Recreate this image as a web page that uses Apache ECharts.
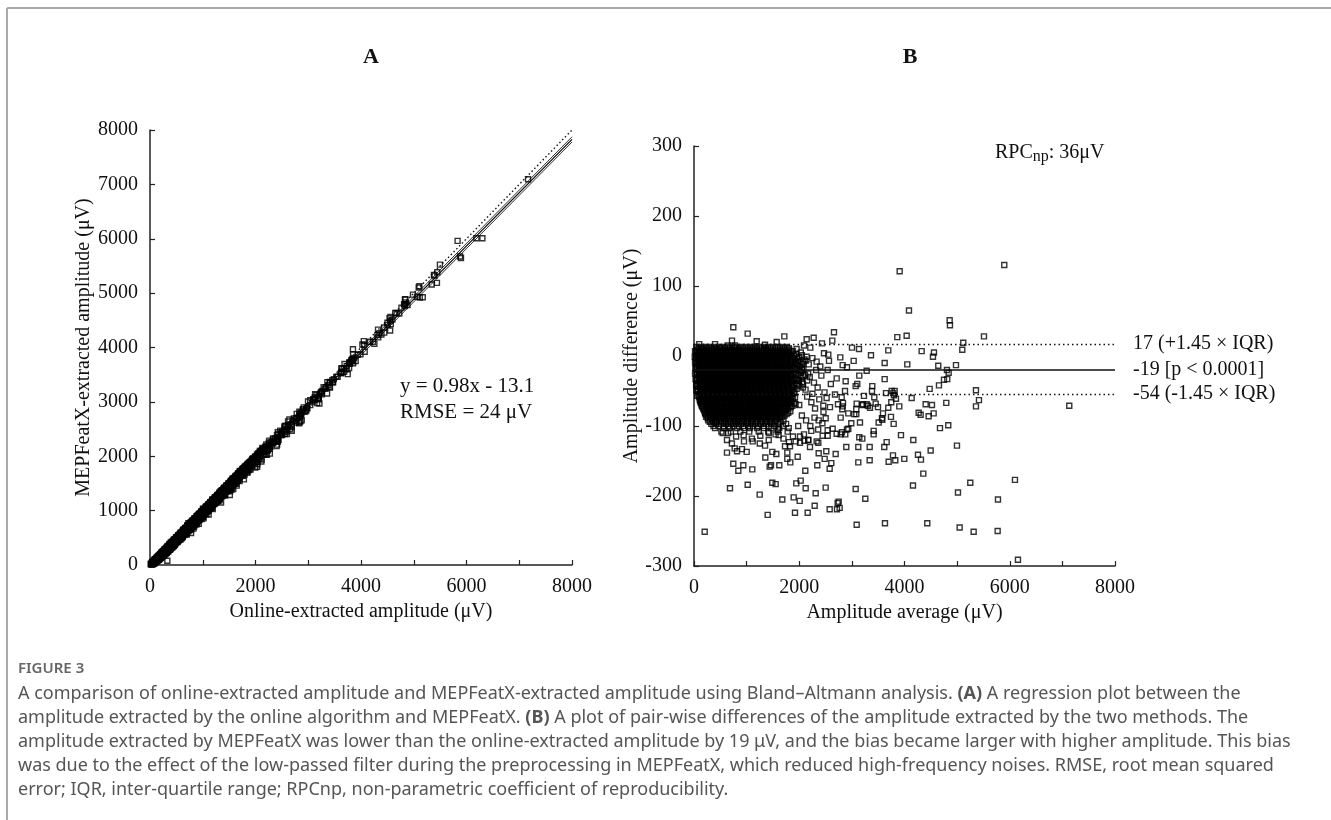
<!DOCTYPE html>
<html><head><meta charset="utf-8">
<script src="https://cdn.jsdelivr.net/npm/echarts@6/dist/echarts.min.js"></script>
<style>html,body{margin:0;padding:0;background:#fff}#c{width:1331px;height:820px}</style>
</head><body><div id="c"></div>
<script>
// ---- Bland–Altmann data (average, difference) ----
// dense cluster, read row by row: [difference, [averages...]]
const blobRows = [
 [13,[45,130,220,290,380,470,540,640,720,810,900,980,1070,1150,1240,1330,1410,1500,1590,1680,1760]],
 [11,[85,175,255,335,425,505,590,680,765,855,940,1025,1110,1195,1285,1370,1455,1545,1635,1720,1800]],
 [9,[60,150,240,320,410,500,585,670,760,850,930,1020,1110,1190,1280,1370,1460,1540,1630,1720,1810]],
 [7,[20,105,195,280,365,455,540,625,715,805,890,975,1065,1150,1235,1325,1415,1500,1585,1675,1770,1880]],
 [5,[40,110,200,280,370,455,550,630,715,800,890,975,1060,1150,1235,1320,1400,1490,1580,1670,1750,1860]],
 [3,[75,160,245,330,415,505,590,675,760,845,935,1020,1105,1195,1280,1365,1450,1535,1625,1710,1820,1940]],
 [1,[55,140,230,310,400,490,570,660,745,830,920,1005,1090,1180,1265,1350,1440,1525,1610,1700,1790,1900,2050]],
 [-1,[15,95,185,270,355,445,530,615,705,790,875,965,1050,1135,1225,1310,1395,1485,1570,1655,1745,1840,1990,2140]],
 [-3,[35,120,205,295,385,470,555,640,730,815,900,990,1075,1160,1250,1335,1420,1510,1595,1685,1770,1850,1960]],
 [-5,[80,165,250,340,425,510,600,685,770,860,945,1030,1120,1205,1290,1380,1465,1550,1640,1725,1820,1920]],
 [-7,[50,135,225,305,395,480,565,655,740,825,910,1000,1085,1170,1255,1345,1430,1515,1605,1690,1780,1880,1990,2120]],
 [-9,[20,90,180,265,350,440,525,610,695,785,870,955,1045,1130,1215,1300,1390,1475,1560,1650,1735,1830,1940,2070]],
 [-11,[40,115,210,290,375,465,550,635,720,810,895,985,1065,1155,1240,1325,1415,1500,1590,1675,1760,1845,1930,2060]],
 [-13,[85,170,255,345,430,515,605,690,775,865,950,1035,1125,1210,1295,1380,1470,1555,1640,1730,1820,1960]],
 [-15,[55,145,235,320,405,490,580,665,750,835,925,1010,1095,1185,1270,1355,1440,1530,1615,1700,1790,1890,2010]],
 [-17,[25,100,190,275,360,450,535,620,705,795,880,965,1055,1140,1225,1315,1400,1485,1575,1660,1745,1830,1920,2050]],
 [-19,[45,125,215,300,390,475,560,645,735,820,905,995,1080,1165,1250,1340,1425,1510,1600,1685,1770,1855,1950,2080]],
 [-21,[90,175,260,350,435,520,610,695,780,870,955,1040,1130,1215,1300,1385,1475,1560,1645,1735,1825,1990]],
 [-23,[60,150,240,325,410,500,585,670,755,845,930,1015,1100,1190,1275,1360,1450,1535,1620,1710,1795,1900,2030]],
 [-25,[20,105,195,285,370,455,545,630,715,800,890,975,1060,1150,1235,1320,1410,1495,1580,1665,1755,1840,1930,2170]],
 [-27,[50,130,220,310,395,480,570,655,740,825,915,1000,1085,1175,1260,1345,1435,1520,1605,1695,1780,1870,1970,2110]],
 [-29,[95,185,270,355,440,530,615,700,790,875,960,1050,1135,1220,1310,1395,1480,1570,1655,1740,1835,2080]],
 [-31,[65,155,245,330,415,505,590,675,765,850,935,1025,1110,1195,1285,1370,1455,1540,1630,1715,1800,1920,2040]],
 [-33,[30,110,200,285,370,460,545,630,720,805,890,980,1065,1150,1240,1325,1410,1500,1585,1670,1760,1850,1950]],
 [-35,[55,140,230,315,400,490,575,660,745,835,920,1005,1095,1180,1265,1350,1440,1525,1610,1700,1785,1880,1990,2150]],
 [-37,[100,190,275,360,445,535,620,705,795,880,965,1055,1140,1225,1315,1400,1485,1575,1660,1750,1840,2060]],
 [-39,[70,160,250,335,420,510,595,680,770,855,940,1030,1115,1200,1290,1375,1460,1550,1635,1720,1810,1930]],
 [-41,[40,120,205,290,380,465,550,640,725,810,900,985,1070,1160,1245,1330,1420,1505,1590,1680,1770,1860,1960]],
 [-43,[60,145,235,320,405,495,580,665,750,840,925,1010,1100,1185,1270,1355,1445,1530,1615,1705,1790,1890,2000]],
 [-45,[110,200,285,375,460,545,635,720,805,895,980,1065,1155,1240,1325,1415,1500,1585,1675,1765,1870,2070]],
 [-47,[75,175,260,345,430,520,605,690,775,860,950,1035,1120,1210,1295,1380,1465,1555,1640,1725,1830,1950]],
 [-49,[45,125,215,300,385,475,560,645,735,820,905,995,1080,1165,1255,1340,1425,1515,1600,1690,1780,1870]],
 [-51,[65,150,245,330,415,500,590,675,760,845,935,1020,1105,1190,1280,1365,1450,1535,1625,1710,1800,1910]],
 [-53,[120,210,300,390,480,565,650,740,825,915,1000,1085,1175,1260,1345,1435,1520,1605,1695,1790,1900]],
 [-55,[85,170,270,355,440,525,615,700,785,870,960,1045,1130,1215,1305,1390,1475,1560,1650,1740,1850]],
 [-57,[60,130,205,285,370,460,545,635,720,810,895,980,1070,1155,1240,1330,1415,1500,1590,1680,1770,1860]],
 [-59,[95,160,240,330,415,505,590,680,765,850,940,1025,1110,1195,1285,1370,1455,1545,1630,1720,1810,1920]],
 [-61,[130,230,315,400,485,570,655,745,830,915,1005,1090,1175,1265,1350,1435,1520,1610,1695,1785,1880]],
 [-63,[110,190,270,355,440,525,615,700,785,870,960,1045,1130,1220,1305,1390,1475,1565,1650,1740,1830]],
 [-65,[120,170,290,375,460,545,635,720,805,890,980,1065,1150,1240,1325,1410,1495,1585,1670,1760,1850]],
 [-67,[130,205,245,330,415,500,590,675,760,845,935,1020,1105,1190,1280,1365,1450,1535,1625,1710,1800,1910]],
 [-69,[140,265,345,430,515,600,690,775,860,945,1030,1120,1205,1290,1375,1465,1550,1635,1725,1820,1930]],
 [-71,[150,225,300,385,470,555,640,730,815,900,985,1075,1160,1245,1330,1420,1505,1590,1680,1770,1870]],
 [-73,[160,270,360,445,530,615,705,790,875,960,1050,1135,1220,1310,1395,1480,1565,1655,1745,1840]],
 [-75,[175,240,320,400,485,570,660,745,830,915,1005,1090,1175,1265,1350,1435,1520,1610,1700,1790]],
 [-77,[190,280,365,445,530,615,705,790,875,960,1050,1135,1220,1310,1395,1480,1565,1655,1750]],
 [-79,[200,270,340,420,505,590,675,760,850,935,1020,1105,1195,1280,1365,1450,1540,1625,1720,1830]],
 [-81,[210,310,385,465,550,635,720,805,890,980,1065,1150,1240,1325,1410,1500,1590,1680,1790]],
 [-83,[215,290,365,445,530,615,700,790,875,960,1045,1135,1220,1305,1395,1480,1565,1660,1760]],
 [-85,[250,330,410,490,575,660,745,835,920,1005,1095,1180,1265,1350,1440,1530,1620,1720]],
 [-87,[230,300,380,460,545,630,720,805,890,975,1060,1150,1235,1320,1410,1495,1580,1680]],
 [-89,[260,340,420,500,585,670,760,845,930,1015,1105,1190,1280,1365,1450,1540,1640]],
 [-92,[270,350,430,520,600,690,775,860,950,1035,1120,1210,1300,1390,1480,1570,1700]],
 [-94,[300,390,475,565,650,740,825,915,1000,1090,1175,1260,1350,1440,1530,1640]],
 [-97,[330,420,520,610,700,800,890,990,1080,1170,1270,1370,1480,1600,1750]],
 [-100,[370,470,570,650,760,850,940,1030,1120,1220,1320,1420,1530,1690]],
 [-103,[400,560,680,820,950,1060,1200,1330,1470,1620,1800]],
 [-108,[520,700,880,1050,1230,1410,1590,1780]]
];
// individually read points [average, difference]
const scatteredPoints = [
 [3908,121],[5896,130],[4085,65],[4858,51],[4864,44],[3863,27],[4041,29],[5510,28],[5117,19],[3692,8],
 [4326,7],[4560,5],[4541,-1],[5098,9],[3623,-10],[4053,-12],[4642,-14],[4978,-13],[4807,-20],[4839,-24],
 [4813,-33],[4750,-34],[4655,-42],[3623,-33],[4478,-47],[5358,-49],[5415,-63],[5358,-72],[7131,-71],[3756,-50],
 [3648,-53],[3787,-53],[3838,-61],[4136,-60],[3749,-66],[3901,-72],[3692,-74],[4402,-69],[4522,-70],[4794,-67],
 [3591,-82],[4269,-81],[4307,-84],[4459,-86],[4554,-82],[3743,-87],[3578,-91],[3794,-97],[4674,-103],[4832,-99],
 [3933,-113],[4167,-120],[3661,-123],[3616,-130],[4997,-128],[4497,-135],[3781,-142],[4256,-141],[3699,-151],[3825,-149],
 [3996,-147],[4313,-148],[4357,-168],[4161,-185],[5250,-181],[6099,-177],[5016,-195],[5776,-205],[3629,-239],[4433,-239],
 [5048,-245],[5314,-251],[5770,-250],[6156,-291],
 [203,-251],[1400,-227],[1919,-224],[2160,-224],[2578,-219],[2717,-219],[2768,-217],[2730,-210],[2749,-208],[2293,-214],
 [3091,-241],[1678,-205],[1894,-202],[2008,-207],[1248,-198],[2312,-196],[3255,-204],[3072,-190],[684,-189],[1020,-184],
 [1488,-181],[1552,-183],[1944,-182],[2027,-178],[2122,-189],[2502,-188],[747,-154],[842,-164],[937,-156],[1108,-162],
 [1438,-158],[1463,-156],[1621,-156],[2115,-164],[2343,-156],[2578,-161],[2609,-153],[3122,-152],[3338,-149],[627,-138],
 [773,-132],[817,-136],[912,-133],[1001,-137],[1355,-145],[1488,-137],[1564,-140],[1773,-138],[1830,-152],[1773,-147],
 [1970,-144],[2369,-139],[2514,-136],[2483,-147],[2692,-140],[2894,-130],[3122,-130],[3338,-130],[545,-110],[627,-120],
 [944,-113],[1115,-122],[1260,-114],[1425,-110],[1609,-113],[1729,-129],[1824,-129],[2014,-124],[2204,-130],[2362,-124],
 [2540,-106],[2635,-104],[2787,-112],[2875,-112],[2932,-104],[3141,-116],[3198,-118],[3414,-107],[3414,-112],[3509,-95],
 [3572,-89],[3046,-83],[3084,-76],[2989,-96],[3154,-95],[3306,-71],[3452,-68],
 [747,41],[1020,32],[1716,28],[2141,24],[2274,26],[2660,34],[2628,22],[2432,18],[722,22],[1191,21],
 [1571,20],[3002,12],[3135,10],[3363,1],[2552,2],[2565,-7],[2780,-2],[3034,-7],[2825,-13],[2907,-16],
 [3281,-21],[3141,-28],[2882,-36],[2711,-32],[3072,-43],[3103,-40],[3388,-43],[3382,-50],[3230,-57],[3426,-59],
 [2869,-50],[2679,-55],[2806,-59],[2831,-67],[3091,-68],[3198,-70],[3344,-74],[3496,-73],[3084,-83],[2818,-76],
 [2787,-88],[2932,-82],[2584,-73],[2457,-71],[2502,-89],[2369,-92],[3813,-50],[3800,-56],
 [100,17],[400,17],[640,15],[779,15],[1349,16],
 [2736,-69],[2825,-72],[3211,-69],[3281,-69],[2812,-109],[2907,-105],[2711,-111],[2540,-114],[2445,-114],[2229,-107],
 [2331,-122],[2172,-120],[1932,-122],[2096,-121],[1805,-123],[2014,-115],
 [1950,10],[2030,5],[2100,-5],[2180,-12],[2250,-3],[2320,-20],[2400,-15],[2200,-30],[2280,-38],[2350,-45],
 [2420,-28],[2480,-52],[2150,-58],[2230,-66],[2300,-75],[2380,-62],[2460,-80],[2050,-85],[2130,-92],[2210,-100],
 [2290,-88],[2360,-105],[2440,-96],[2520,-60],[2600,-40],[2540,-20],[2070,-40],[2000,-70],[1980,-100],[2090,-112],
 [2170,-120],[1880,-115],[1700,-118],[1550,-112],[1420,-120],[1250,-125],[1100,-118],[950,-122],[800,-115],[650,-110],
 [720,-125],[1350,-128],[1600,-105],[2050,-20],[1990,-35],[2120,-48],[2250,-54],[2330,-8],[2470,4],[2210,12],[2090,15]
];
// limits of agreement (panel B)
const limitValues = [17, -19, -54];
const limitLabels = ['17 (+1.45 × IQR)', '-19 [p < 0.0001]', '-54 (-1.45 × IQR)'];
const limitStyles = ['dotted', 'solid', 'dotted'];
// panel A reference lines [online, MEPFeatX]
const identityLine = [[0, 0], [8000, 8000]];
const regressionLine = [[0, -13.1], [8000, 7826.9]];
const upperBandLine = [[0, 35], [8000, 7875]];
const lowerBandLine = [[0, -61], [8000, 7779]];
// axis ranges [min, max, interval]
const axisATicks = [0, 8000, 1000];
const axisBYTicks = [-300, 300, 100];

// ---- build data ----
const baPoints = [];
blobRows.forEach(([d, xs]) => xs.forEach(m => baPoints.push([m, d])));
scatteredPoints.forEach(p => baPoints.push(p));
// panel A: online = avg - diff/2, MEPFeatX = avg + diff/2
const regPoints = baPoints.map(([m, d]) => [m - d / 2, m + d / 2]);

const SERIF = '"Liberation Serif","Times New Roman",serif';
const SANS = '"Noto Sans", sans-serif';
const INK = '#111';
const markerStyle = { color: 'rgba(0,0,0,0)', borderColor: '#000', borderWidth: 1.4 };

function axisBase(gi, mn, mx, iv, fmt, name, gap) {
  return {
    type: 'value', gridIndex: gi, min: mn, max: mx, interval: iv,
    axisLine: { show: true, onZero: false, lineStyle: { color: '#222', width: 1.5 } },
    axisTick: { show: true, inside: true, length: 5, lineStyle: { color: '#222', width: 1.2 } },
    axisLabel: { formatter: fmt, fontFamily: SERIF, fontSize: 20, color: INK, margin: 12 },
    splitLine: { show: false },
    name: name, nameLocation: 'middle', nameGap: gap,
    nameTextStyle: { fontFamily: SERIF, fontSize: 20, color: INK }
  };
}
const evenThousands = v => (v % 2000 === 0 ? String(v) : '');
const CAP = 18;
const captionRich = {
  n: { fontFamily: SANS, fontSize: CAP, color: '#555', fill: '#555' },
  b: { fontFamily: SANS, fontSize: CAP, fontWeight: 'bold', color: '#555', fill: '#555' }
};

const chart = echarts.init(document.getElementById('c'), null, { renderer: 'canvas' });
chart.setOption({
  animation: false,
  backgroundColor: '#fff',
  grid: [
    { left: 150, top: 130, width: 422, height: 435 },
    { left: 694, top: 146, width: 421, height: 420 }
  ],
  xAxis: [
    axisBase(0, axisATicks[0], axisATicks[1], axisATicks[2], evenThousands, 'Online-extracted amplitude (μV)', 33),
    axisBase(1, axisATicks[0], axisATicks[1], axisATicks[2], evenThousands, 'Amplitude average (μV)', 33)
  ],
  yAxis: [
    axisBase(0, axisATicks[0], axisATicks[1], axisATicks[2], v => String(v), 'MEPFeatX-extracted amplitude (μV)', 47),
    axisBase(1, axisBYTicks[0], axisBYTicks[1], axisBYTicks[2], v => String(v), 'Amplitude difference (μV)', 52)
  ],
  series: [
    { type: 'scatter', xAxisIndex: 0, yAxisIndex: 0, data: regPoints, symbol: 'rect', symbolSize: 5,
      itemStyle: markerStyle, silent: true, z: 3 },
    { type: 'line', xAxisIndex: 0, yAxisIndex: 0, data: identityLine, symbol: 'none',
      lineStyle: { color: INK, width: 1.4, type: [1.5, 2.5] }, clip: true, silent: true, z: 2 },
    { type: 'line', xAxisIndex: 0, yAxisIndex: 0, data: regressionLine, symbol: 'none',
      lineStyle: { color: INK, width: 1.3 }, clip: true, silent: true, z: 2 },
    { type: 'line', xAxisIndex: 0, yAxisIndex: 0, data: upperBandLine, symbol: 'none',
      lineStyle: { color: '#333', width: 1 }, clip: true, silent: true, z: 2 },
    { type: 'line', xAxisIndex: 0, yAxisIndex: 0, data: lowerBandLine, symbol: 'none',
      lineStyle: { color: '#333', width: 1 }, clip: true, silent: true, z: 2 },
    { type: 'scatter', xAxisIndex: 1, yAxisIndex: 1, data: baPoints, symbol: 'rect', symbolSize: 5,
      itemStyle: markerStyle, silent: true, z: 3,
      markLine: {
        silent: true, symbol: 'none', animation: false,
        data: limitValues.map((v, i) => ({
          yAxis: v,
          lineStyle: { color: INK, width: i === 1 ? 1.6 : 1.4, type: limitStyles[i] === 'dotted' ? [1.5, 3] : 'solid' },
          label: { show: true, position: 'end', distance: 18, formatter: limitLabels[i],
                   fontFamily: SERIF, fontSize: 20, color: INK }
        }))
      }
    }
  ],
  graphic: [
    { type: 'line', shape: { x1: 7, y1: 8, x2: 1331, y2: 8 }, style: { stroke: '#aaa', lineWidth: 2 } },
    { type: 'line', shape: { x1: 7, y1: 8, x2: 7, y2: 820 }, style: { stroke: '#aaa', lineWidth: 2 } },
    { type: 'text', x: 371, y: 57, style: { text: 'A', font: 'bold 22px ' + SERIF, fill: INK, textAlign: 'center', textVerticalAlign: 'middle' } },
    { type: 'text', x: 910, y: 57, style: { text: 'B', font: 'bold 22px ' + SERIF, fill: INK, textAlign: 'center', textVerticalAlign: 'middle' } },
    { type: 'text', x: 400, y: 386, style: { text: 'y = 0.98x - 13.1', font: '21px ' + SERIF, fill: INK, textVerticalAlign: 'middle' } },
    { type: 'text', x: 400, y: 412, style: { text: 'RMSE = 24 μV', font: '21px ' + SERIF, fill: INK, textVerticalAlign: 'middle' } },
    { type: 'text', x: 995, y: 153, style: {
        text: '{a|RPC}{b|np}{a|: 36μV}', textVerticalAlign: 'middle',
        rich: { a: { fontFamily: SERIF, fontSize: 20, fill: INK, color: INK },
                b: { fontFamily: SERIF, fontSize: 16, fill: INK, color: INK, padding: [8, 0, 0, 0] } } } },
    { type: 'text', x: 18, y: 669, style: { text: 'FIGURE 3', font: '600 15px ' + SANS, fill: '#666', textVerticalAlign: 'middle' } },
    { type: 'text', x: 18, y: 694, style: { text: '{n|A comparison of online-extracted amplitude and MEPFeatX-extracted amplitude using Bland–Altmann analysis. }{b|(A)}{n| A regression plot between the}', textVerticalAlign: 'middle', rich: captionRich } },
    { type: 'text', x: 18, y: 718, style: { text: '{n|amplitude extracted by the online algorithm and MEPFeatX. }{b|(B)}{n| A plot of pair-wise differences of the amplitude extracted by the two methods. The}', textVerticalAlign: 'middle', rich: captionRich } },
    { type: 'text', x: 18, y: 742, style: { text: 'amplitude extracted by MEPFeatX was lower than the online-extracted amplitude by 19 μV, and the bias became larger with higher amplitude. This bias', font: CAP + 'px ' + SANS, fill: '#555', textVerticalAlign: 'middle' } },
    { type: 'text', x: 18, y: 766, style: { text: 'was due to the effect of the low-passed filter during the preprocessing in MEPFeatX, which reduced high-frequency noises. RMSE, root mean squared', font: CAP + 'px ' + SANS, fill: '#555', textVerticalAlign: 'middle' } },
    { type: 'text', x: 18, y: 790, style: { text: 'error; IQR, inter-quartile range; RPCnp, non-parametric coefficient of reproducibility.', font: CAP + 'px ' + SANS, fill: '#555', textVerticalAlign: 'middle' } }
  ]
});
</script>
</body></html>
